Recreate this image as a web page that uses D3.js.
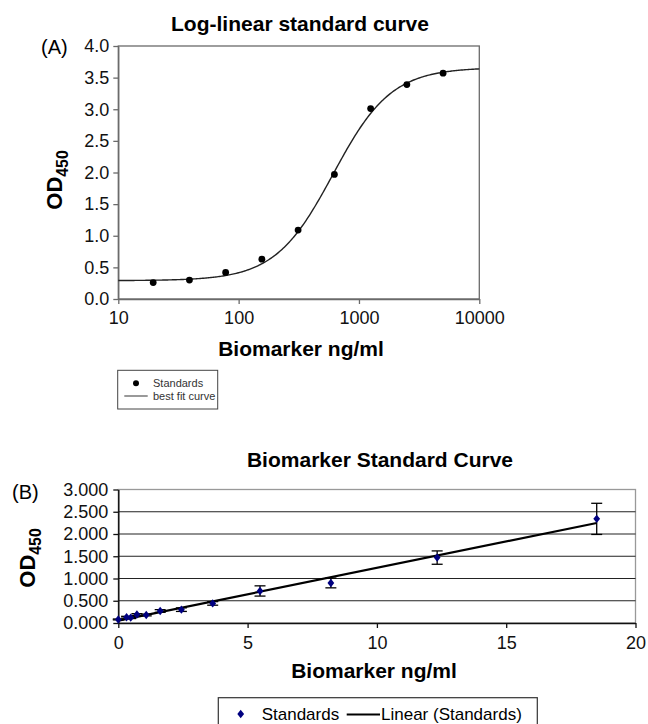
<!DOCTYPE html>
<html>
<head>
<meta charset="utf-8">
<script src="https://cdn.jsdelivr.net/npm/d3@7"></script>
<style>
  body { margin: 0; background: #fff; }
  svg { display: block; font-family: "Liberation Sans", Arial, sans-serif; }
</style>
</head>
<body>
<div id="chart"></div>
<script>
// panel A: log-linear standards
var aConc = [19.5, 39, 78, 156, 312, 625, 1250, 2500, 5000];
var aOD = [0.26, 0.30, 0.42, 0.63, 1.09, 1.97, 3.01, 3.39, 3.57];
var aFit = [0.29, 3.66, 610, 1.8]; // bottom, top, EC50, hill slope
var aXTicks = [10, 100, 1000, 10000];
var aYTicks = [0, 0.5, 1.0, 1.5, 2.0, 2.5, 3.0, 3.5, 4.0];

// panel B: linear standards with error bars
var bConc = [0, 0.32, 0.48, 0.72, 1.08, 1.62, 2.44, 3.65, 5.48, 8.22, 12.33, 18.5];
var bOD = [0.08, 0.13, 0.12, 0.19, 0.18, 0.27, 0.30, 0.44, 0.72, 0.90, 1.47, 2.34];
var bErr = [0.01, 0.02, 0.02, 0.02, 0.02, 0.03, 0.04, 0.04, 0.115, 0.11, 0.15, 0.35];
var bXTicks = [0, 5, 10, 15, 20];
var bYTicks = [0, 0.5, 1.0, 1.5, 2.0, 2.5, 3.0];

var svg = d3.select('#chart').append('svg')
    .attr('width', 648)
    .attr('height', 724);

drawPanelA(svg);
drawPanelB(svg);

function odLabel(g, x, y, size) {
    var t = g.append('text')
        .attr('transform', 'translate(' + x + ',' + y + ') rotate(-90)')
        .attr('text-anchor', 'middle')
        .style('font-weight', 'bold')
        .style('font-size', size + 'px');
    t.append('tspan').text('OD');
    t.append('tspan').attr('dy', 6).style('font-size', (size * 0.72) + 'px').text('450');
}

function styleAxis(a, color, width, size) {
    a.attr('font-family', null).attr('font-size', null);
    a.select('.domain').attr('stroke', color).attr('stroke-width', width);
    a.selectAll('.tick line').attr('stroke', color).attr('stroke-width', 1.3);
    a.selectAll('text').attr('fill', '#111').style('font-size', size + 'px');
}

function drawPanelA(svg) {
    var x = d3.scaleLog().domain([10, 10000]).range([118.3, 479.3]),
        y = d3.scaleLinear().domain([0, 4]).range([299, 46]);
    var g = svg.append('g');

    g.append('rect')
        .attr('x', x(10)).attr('y', y(4))
        .attr('width', x(10000) - x(10)).attr('height', y(0) - y(4))
        .attr('fill', 'none').attr('stroke', '#6a6a6a').attr('stroke-width', 1.3);

    var xAxis = d3.axisBottom(x).tickValues(aXTicks).tickFormat(d3.format('d')).tickSize(5).tickSizeOuter(0);
    var yAxis = d3.axisLeft(y).tickValues(aYTicks).tickFormat(d3.format('.1f')).tickSize(5).tickSizeOuter(0);

    var gx = g.append('g').attr('transform', 'translate(0,' + y(0) + ')').call(xAxis);
    var gy = g.append('g').attr('transform', 'translate(' + x(10) + ',0)').call(yAxis);
    styleAxis(gx, '#6a6a6a', 1.3, 18);
    styleAxis(gy, '#6a6a6a', 1.3, 18);
    gx.selectAll('text').attr('dy', '0.95em');
    gy.selectAll('text').attr('x', -9);

    // fitted 4PL curve
    var fit = function (c) {
        return aFit[1] + (aFit[0] - aFit[1]) / (1 + Math.pow(c / aFit[2], aFit[3]));
    };
    var samples = d3.range(0, 301).map(function (i) { return Math.pow(10, 1 + i / 100); });
    g.append('path')
        .datum(samples)
        .attr('d', d3.line().x(function (d) { return x(d); }).y(function (d) { return y(fit(d)); }))
        .attr('fill', 'none').attr('stroke', '#222').attr('stroke-width', 1.4);

    g.selectAll('.pt').data(aConc).enter().append('circle')
        .attr('cx', function (d) { return x(d); })
        .attr('cy', function (d, i) { return y(aOD[i]); })
        .attr('r', 3.4).attr('fill', '#000');

    g.append('text').attr('x', 300).attr('y', 31)
        .attr('text-anchor', 'middle').style('font-weight', 'bold').style('font-size', '21px')
        .text('Log-linear standard curve');
    g.append('text').attr('x', 41).attr('y', 54).style('font-size', '20px').text('(A)');
    odLabel(g, 62, 180, 22);
    g.append('text').attr('x', 301).attr('y', 356)
        .attr('text-anchor', 'middle').style('font-weight', 'bold').style('font-size', '21px')
        .text('Biomarker ng/ml');

    // legend
    var lg = g.append('g');
    lg.append('rect').attr('x', 117.7).attr('y', 370.3).attr('width', 100).attr('height', 38.7)
        .attr('fill', '#fff').attr('stroke', '#444').attr('stroke-width', 1);
    lg.append('circle').attr('cx', 136).attr('cy', 383.3).attr('r', 3).attr('fill', '#000');
    lg.append('line').attr('x1', 124.3).attr('x2', 147.7).attr('y1', 396).attr('y2', 396)
        .attr('stroke', '#555').attr('stroke-width', 1.2);
    lg.append('text').attr('x', 153).attr('y', 387).style('font-size', '11px').attr('fill', '#333').text('Standards');
    lg.append('text').attr('x', 153).attr('y', 400).style('font-size', '11px').attr('fill', '#333').text('best fit curve');
}

function drawPanelB(svg) {
    var x = d3.scaleLinear().domain([0, 20]).range([118.3, 635.5]),
        y = d3.scaleLinear().domain([0, 3]).range([623, 489.5]);
    var g = svg.append('g');

    g.append('rect')
        .attr('x', x(0)).attr('y', y(3))
        .attr('width', x(20) - x(0)).attr('height', y(0) - y(3))
        .attr('fill', 'none').attr('stroke', '#999').attr('stroke-width', 1.3);

    g.selectAll('.grid').data(bYTicks.filter(function (d) { return d > 0 && d < 3; }))
        .enter().append('line')
        .attr('x1', x(0)).attr('x2', x(20))
        .attr('y1', function (d) { return y(d); }).attr('y2', function (d) { return y(d); })
        .attr('stroke', '#222').attr('stroke-width', 1.2);

    var xAxis = d3.axisBottom(x).tickValues(bXTicks).tickSize(5).tickSizeOuter(0);
    var yAxis = d3.axisLeft(y).tickValues(bYTicks).tickFormat(d3.format('.3f')).tickSize(5).tickSizeOuter(0);
    var gx = g.append('g').attr('transform', 'translate(0,' + y(0) + ')').call(xAxis);
    var gy = g.append('g').attr('transform', 'translate(' + x(0) + ',0)').call(yAxis);
    styleAxis(gx, '#111', 1.5, 18);
    styleAxis(gy, '#111', 1.5, 18);
    gx.selectAll('text').attr('dy', '1.0em');
    gy.selectAll('text').attr('x', -10);

    // least squares trend line
    var mx = d3.mean(bConc), my = d3.mean(bOD);
    var sxy = d3.sum(bConc, function (d, i) { return (d - mx) * (bOD[i] - my); });
    var sxx = d3.sum(bConc, function (d) { return (d - mx) * (d - mx); });
    var slope = sxy / sxx, icpt = my - slope * mx;
    var ext = d3.extent(bConc);
    g.append('line')
        .attr('x1', x(ext[0])).attr('y1', y(icpt + slope * ext[0]))
        .attr('x2', x(ext[1])).attr('y2', y(icpt + slope * ext[1]))
        .attr('stroke', '#000').attr('stroke-width', 2.2);

    // error bars
    var eb = g.selectAll('.eb').data(bConc).enter().append('g');
    eb.append('line')
        .attr('x1', function (d) { return x(d); }).attr('x2', function (d) { return x(d); })
        .attr('y1', function (d, i) { return y(bOD[i] - bErr[i]); })
        .attr('y2', function (d, i) { return y(bOD[i] + bErr[i]); })
        .attr('stroke', '#000').attr('stroke-width', 1.3);
    [-1, 1].forEach(function (s) {
        eb.append('line')
            .attr('x1', function (d) { return x(d) - 5.5; }).attr('x2', function (d) { return x(d) + 5.5; })
            .attr('y1', function (d, i) { return y(bOD[i] + s * bErr[i]); })
            .attr('y2', function (d, i) { return y(bOD[i] + s * bErr[i]); })
            .attr('stroke', '#000').attr('stroke-width', 1.3);
    });

    var diamond = function (cx, cy) {
        return 'M' + cx + ',' + (cy - 4.2) + 'L' + (cx + 3.4) + ',' + cy + 'L' + cx + ',' + (cy + 4.2) + 'L' + (cx - 3.4) + ',' + cy + 'Z';
    };
    g.selectAll('.pt').data(bConc).enter().append('path')
        .attr('d', function (d, i) { return diamond(x(d), y(bOD[i])); })
        .attr('fill', '#000080');

    g.append('text').attr('x', 380).attr('y', 467)
        .attr('text-anchor', 'middle').style('font-weight', 'bold').style('font-size', '21px')
        .text('Biomarker Standard Curve');
    g.append('text').attr('x', 12).attr('y', 499).style('font-size', '20px').text('(B)');
    odLabel(g, 35, 558, 22);
    g.append('text').attr('x', 374).attr('y', 678)
        .attr('text-anchor', 'middle').style('font-weight', 'bold').style('font-size', '21px')
        .text('Biomarker ng/ml');

    var lg = g.append('g');
    lg.append('rect').attr('x', 218.3).attr('y', 697.7).attr('width', 319).attr('height', 40)
        .attr('fill', '#fff').attr('stroke', '#333').attr('stroke-width', 1.2);
    lg.append('path').attr('d', diamond(240.7, 714)).attr('fill', '#000080');
    lg.append('text').attr('x', 261.7).attr('y', 720).style('font-size', '17px').text('Standards');
    lg.append('line').attr('x1', 346.7).attr('x2', 380).attr('y1', 714.5).attr('y2', 714.5)
        .attr('stroke', '#000').attr('stroke-width', 2.2);
    lg.append('text').attr('x', 381).attr('y', 720).style('font-size', '17px').text('Linear (Standards)');
}
</script>
</body>
</html>
